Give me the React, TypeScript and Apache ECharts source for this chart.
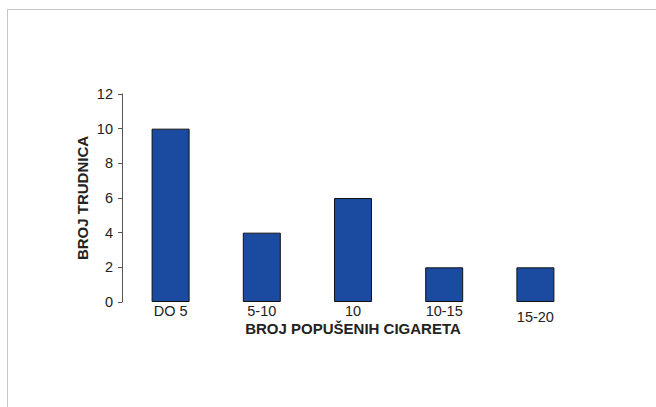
import React, { useEffect, useRef } from "react";
import * as echarts from "echarts";

const categories = ["DO 5", "5-10", "10", "10-15", "15-20"];
const counts = [10, 4, 6, 2, 2];
const labelOffsets = [0, 0, 0, -3, 3];

export default function App() {
  const ref = useRef<HTMLDivElement>(null);
  useEffect(() => {
    if (!ref.current) return;
    const chart = echarts.init(ref.current, null, { renderer: "svg" });
    chart.setOption({
      animation: false,
      backgroundColor: "#ffffff",
      textStyle: { fontFamily: "Liberation Sans, Arial, sans-serif" },
      graphic: [
        {
          type: "rect",
          shape: { x: 7.5, y: 9.5, width: 700, height: 450 },
          style: { fill: "none", stroke: "#8a8a8a", lineWidth: 1, lineDash: [1, 1] },
          silent: true,
        },
      ],
      grid: { left: 125, right: 75, top: 94, bottom: 105 },
      xAxis: {
        type: "category",
        data: categories.map((c, i) => ({
          value: c,
          textStyle: { padding: [labelOffsets[i] > 0 ? labelOffsets[i] * 2 : 0, 0, labelOffsets[i] < 0 ? -labelOffsets[i] * 2 : 0, 0] },
        })),
        axisLine: { show: false },
        axisTick: { show: false },
        axisLabel: { color: "#222", fontSize: 14.5, margin: 1 },
        name: "BROJ POPUŠENIH CIGARETA",
        nameLocation: "middle",
        nameGap: 19,
        nameMoveOverlap: false,
        nameTextStyle: { color: "#222", fontSize: 15, fontWeight: "bold" },
      },
      yAxis: {
        type: "value",
        min: 0,
        max: 12,
        interval: 2,
        offset: 3,
        axisLine: { show: true, lineStyle: { color: "#555", width: 1 } },
        axisTick: { show: true, length: 4, lineStyle: { color: "#555" } },
        axisLabel: { color: "#222", fontSize: 14.5, margin: 9 },
        splitLine: { show: false },
        name: "BROJ TRUDNICA",
        nameLocation: "middle",
        nameGap: 32,
        nameMoveOverlap: false,
        nameTextStyle: { color: "#222", fontSize: 15, fontWeight: "bold" },
      },
      series: [
        {
          type: "bar",
          data: counts,
          barWidth: 38,
          itemStyle: { color: "#1a4ba0", borderColor: "#111", borderWidth: 1 },
        },
      ],
    });
    return () => chart.dispose();
  }, []);
  return (
    <div
      ref={ref}
      style={{ position: "fixed", left: 0, top: 0, width: 656, height: 407 }}
    />
  );
}
